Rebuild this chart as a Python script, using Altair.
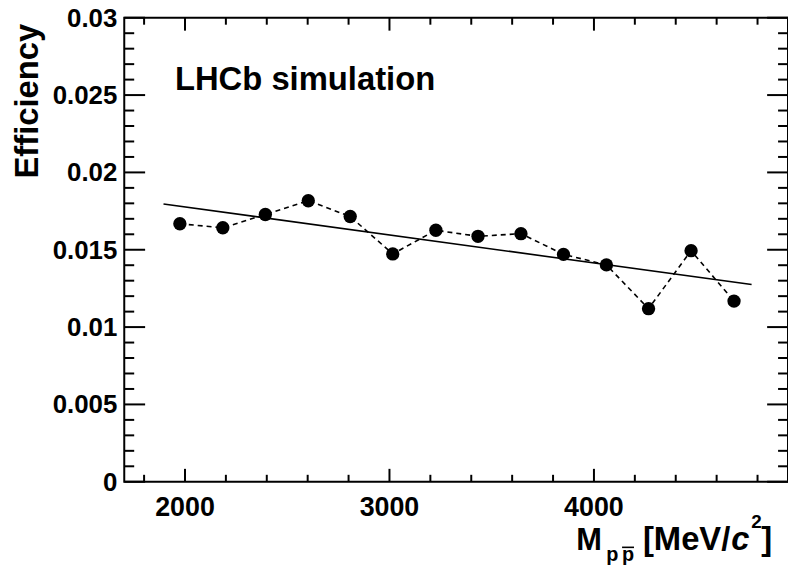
import altair as alt
import pandas as pd

# ---- data ----
mass = [1975, 2185, 2393, 2603, 2808, 3016, 3227, 3433, 3643, 3851, 4061, 4267, 4475, 4685]
eff = [0.01668, 0.01642, 0.01728, 0.01817, 0.01715, 0.01473, 0.01626, 0.01587,
       0.01604, 0.0147, 0.01402, 0.01119, 0.01494, 0.01168]

fit_mass = [1895, 4771]
fit_eff = [0.01796, 0.01275]

x_major = [2000, 3000, 4000]
x_labels = ["2000", "3000", "4000"]
x_minor = [1800, 2200, 2400, 2600, 2800, 3200, 3400, 3600, 3800, 4200, 4400, 4600, 4800]
y_major = [0, 0.005, 0.01, 0.015, 0.02, 0.025, 0.03]
y_labels = ["0", "0.005", "0.01", "0.015", "0.02", "0.025", "0.03"]
y_minor = [v / 1000 for v in range(1, 30) if v % 5 != 0]

X_DOMAIN = [1703, 4949]
Y_DOMAIN = [0, 0.03]
W, H = 668, 467
FONT = "Liberation Sans"

xs = alt.Scale(domain=X_DOMAIN, nice=False, zero=False)
ys = alt.Scale(domain=Y_DOMAIN, nice=False, zero=False)

pts = pd.DataFrame({"m": mass, "e": eff})
fit = pd.DataFrame({"m": fit_mass, "e": fit_eff})

X = lambda f: alt.X(f, scale=xs, axis=None)
Y = lambda f: alt.Y(f, scale=ys, axis=None)

dashed = alt.Chart(pts).mark_line(color="black", strokeWidth=1.6, strokeDash=[5, 4]).encode(
    x=X("m:Q"), y=Y("e:Q"))

fitline = alt.Chart(fit).mark_line(color="black", strokeWidth=1.6).encode(
    x=X("m:Q"), y=Y("e:Q"))

points = alt.Chart(pts).mark_point(filled=True, shape="circle", size=180, color="black", opacity=1).encode(
    x=X("m:Q"), y=Y("e:Q"))

xmaj = pd.DataFrame({"v": x_major, "t": x_labels})
xmin = pd.DataFrame({"v": x_minor})
ymaj = pd.DataFrame({"v": y_major, "t": y_labels})
ymin = pd.DataFrame({"v": y_minor})


def xticks(df, length):
    bottom = alt.Chart(df).mark_rule(color="black", strokeWidth=2).encode(
        x=X("v:Q"), y=alt.value(H), y2=alt.value(H - length))
    top = alt.Chart(df).mark_rule(color="black", strokeWidth=2).encode(
        x=X("v:Q"), y=alt.value(0), y2=alt.value(length))
    return [bottom, top]


def yticks(df, length):
    left = alt.Chart(df).mark_rule(color="black", strokeWidth=2).encode(
        y=Y("v:Q"), x=alt.value(0), x2=alt.value(length))
    right = alt.Chart(df).mark_rule(color="black", strokeWidth=2).encode(
        y=Y("v:Q"), x=alt.value(W), x2=alt.value(W - length))
    return [left, right]


ticks = xticks(xmaj, 13) + xticks(xmin, 7) + yticks(ymaj, 21) + yticks(ymin, 10)

xlab = alt.Chart(xmaj).mark_text(font=FONT, fontSize=27, fontWeight="bold", color="black",
                                 align="center", baseline="alphabetic").encode(
    x=X("v:Q"), y=alt.value(501), text="t:N")
ylab = alt.Chart(ymaj).mark_text(font=FONT, fontSize=26, fontWeight="bold", color="black",
                                 align="right", baseline="middle", dy=1).encode(
    y=Y("v:Q"), x=alt.value(-7), text="t:N")


def label(text, x, y, size, align="left", angle=0, style="normal", baseline="alphabetic"):
    kw = dict(font=FONT, fontSize=size, fontWeight="bold", color="black",
              align=align, baseline=baseline, fontStyle=style)
    if angle:
        kw["angle"] = angle
    return alt.Chart(pd.DataFrame({"t": [text]})).mark_text(**kw).encode(
        text="t:N", x=alt.value(x), y=alt.value(y))


texts = [
    label("LHCb simulation", 51, 73, 33),
    label("Efficiency", -87, 6, 33, align="right", angle=270),
    label("M", 455, 536, 31),
    label("p", 485, 547, 20),
    label("p", 501, 547, 20),
    label("[MeV/", 522, 536, 33),
    label("c", 611, 536, 33, style="italic"),
    label("2", 631, 514, 19),
    label("]", 641, 536, 33),
]

overline = alt.Chart(pd.DataFrame({"t": ["p"]})).mark_rule(color="black", strokeWidth=1.6).encode(
    x=alt.value(501), x2=alt.value(513), y=alt.value(533))

chart = alt.layer(dashed, fitline, points, *ticks, xlab, ylab, *texts, overline).properties(
    width=W, height=H,
    autosize=alt.AutoSizeParams(type="none"),
    padding={"left": 117, "top": 8, "right": 0, "bottom": 86},
).configure_view(stroke="black", strokeWidth=2)

chart.save("out.html", embed_options={"renderer": "svg", "actions": False})
